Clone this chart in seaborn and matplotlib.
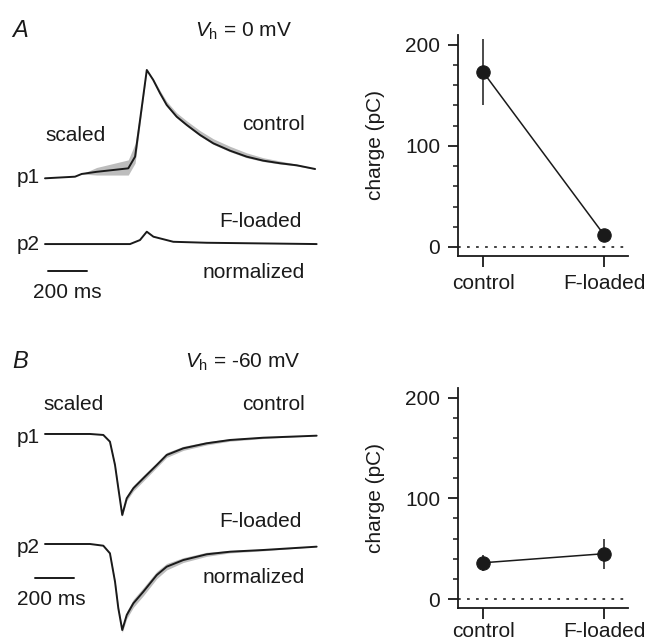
import numpy as np
import pandas as pd
import seaborn as sns
import matplotlib.pyplot as plt

sns.set_style("white")
plt.rcParams['font.family'] = ['Liberation Sans', 'DejaVu Sans']
plt.rcParams['mathtext.fontset'] = 'custom'
plt.rcParams['mathtext.rm'] = 'Liberation Sans'
plt.rcParams['mathtext.it'] = 'Liberation Sans:italic'

# ---- traces, panel A (Vh = 0 mV), normalized amplitude, time in ms ----
a_p1_t = [0, 154, 188, 265, 427, 462, 522, 555, 590, 624, 675, 727, 795, 863, 949,
          1034, 1119, 1205, 1291, 1385]
a_p1 = [0, 0.015, 0.04, 0.06, 0.092, 0.200, 1.0, 0.908, 0.785, 0.677, 0.569, 0.492,
        0.400, 0.323, 0.255, 0.200, 0.163, 0.139, 0.120, 0.086]
a_p1_hi = [0, 0.015, 0.04, 0.10, 0.17, 0.32, 1.0, 0.92, 0.81, 0.71, 0.605, 0.53,
           0.44, 0.365, 0.295, 0.235, 0.19, 0.16, 0.13, 0.09]
a_p1_lo = [0, 0.015, 0.04, 0.03, 0.03, 0.14, 0.99, 0.90, 0.775, 0.665, 0.56, 0.482,
           0.39, 0.313, 0.245, 0.19, 0.155, 0.132, 0.114, 0.083]
a_p2_t = [0, 436, 487, 522, 556, 658, 829, 1393]
a_p2 = [0, 0, 0.037, 0.114, 0.068, 0.021, 0.012, 0]

# ---- traces, panel B (Vh = -60 mV) ----
b_t = [0, 231, 299, 333, 359, 376, 396, 419, 453, 504, 573, 624, 709, 829, 949, 1119, 1393]
b_p1 = [0, 0, -0.012, -0.095, -0.383, -0.670, -1.0, -0.794, -0.670, -0.547, -0.383,
        -0.259, -0.177, -0.115, -0.074, -0.046, -0.021]
b_p1_sd = [0, 0, 0, 0.01, 0.02, 0.02, 0.02, 0.03, 0.035, 0.035, 0.03, 0.03, 0.025,
           0.02, 0.015, 0.01, 0]
b_p2 = [0, 0, -0.021, -0.115, -0.465, -0.794, -1.062, -0.877, -0.732, -0.589, -0.383,
        -0.280, -0.198, -0.127, -0.095, -0.074, -0.033]
b_p2_sd = [0, 0, 0, 0.01, 0.02, 0.03, 0.03, 0.045, 0.05, 0.05, 0.045, 0.04, 0.03,
           0.025, 0.015, 0.01, 0]

# ---- charge summary ----
groups = ['control', 'F-loaded']
charge_a = [173, 12]
charge_a_err = [33, 0]
charge_b = [36, 45]
charge_b_err = [8, 15]

W, H = 649, 643
fig = plt.figure(figsize=(W / 100, H / 100), dpi=100)
ink = '#1a1a1a'
band = '#bdbdbd'
fs = 15
tlw = 1.4


def rect(x0, y0, x1, y1):
    return [x0 / W, 1 - y1 / H, (x1 - x0) / W, (y1 - y0) / H]


def ftext(x, y, s, **kw):
    fig.text(x / W, 1 - y / H, s, fontsize=kw.pop('fontsize', fs), color=ink,
             va='baseline', **kw)


# left trace panels
axA = fig.add_axes(rect(0, 0, 330, 320))
axA.set_xlim(-230.8, 1461.5)
axA.set_ylim(-1.308, 1.646)
axA.fill_between(a_p1_t, a_p1_lo, a_p1_hi, color=band, lw=0)
sns.lineplot(x=a_p1_t, y=a_p1, ax=axA, color=ink, lw=tlw)
off_a = -0.607
sns.lineplot(x=a_p2_t, y=np.array(a_p2) + off_a, ax=axA, color=ink, lw=tlw)
axA.plot([15, 215], [-0.856, -0.856], color=ink, lw=tlw)
axA.axis('off')

axB = fig.add_axes(rect(0, 320, 330, 643))
axB.set_xlim(-230.8, 1461.5)
axB.set_ylim(-2.580, 1.407)
off_b = -1.358
bp1 = np.array(b_p1)
bp2 = np.array(b_p2) + off_b
axB.fill_between(b_t, bp1 - np.array(b_p1_sd), bp1 + np.array(b_p1_sd), color=band, lw=0)
axB.fill_between(b_t, bp2 - np.array(b_p2_sd), bp2 + np.array(b_p2_sd), color=band, lw=0)
sns.lineplot(x=b_t, y=bp1, ax=axB, color=ink, lw=tlw)
sns.lineplot(x=b_t, y=bp2, ax=axB, color=ink, lw=tlw)
axB.plot([-51, 149], [-1.778, -1.778], color=ink, lw=tlw)
axB.axis('off')

# panel texts
ftext(12, 37, 'A', fontsize=17, style='italic')
ftext(195, 37, r'$V_{\mathrm{h}}$ = 0 mV')
ftext(45, 141, 'scaled')
ftext(305, 130, 'control', ha='right')
ftext(17, 183, 'p1')
ftext(302, 227, 'F-loaded', ha='right')
ftext(17, 250, 'p2')
ftext(305, 278, 'normalized', ha='right')
ftext(33, 298, '200 ms')

ftext(12, 368, 'B', fontsize=17, style='italic')
ftext(185, 368, r'$V_{\mathrm{h}}$ = -60 mV')
ftext(43, 410, 'scaled')
ftext(305, 410, 'control', ha='right')
ftext(17, 443, 'p1')
ftext(302, 527, 'F-loaded', ha='right')
ftext(17, 553, 'p2')
ftext(305, 583, 'normalized', ha='right')
ftext(17, 605, '200 ms')


def charge_panel(ax, vals, errs, xpad):
    df = pd.DataFrame({'group': groups, 'charge': vals})
    ax.axhline(0, color='#333333', lw=1.3, ls=(0, (1.5, 3.5)))
    sns.pointplot(data=df, x='group', y='charge', ax=ax, color=ink, errorbar=None,
                  markers='o', markersize=9.6, linewidth=1.1)
    ax.errorbar(range(len(groups)), vals, yerr=errs, fmt='none', ecolor=ink, elinewidth=1.1)
    ax.set_xlim(-0.207, 1.198)
    ax.set_ylim(-8.9, 209.5)
    ax.set_yticks([0, 100, 200])
    ax.set_yticks(np.arange(0, 201, 20), minor=True)
    sns.despine(ax=ax)
    for s in ['left', 'bottom']:
        ax.spines[s].set_linewidth(1.3)
        ax.spines[s].set_color(ink)
    ax.tick_params(axis='y', which='major', length=7.2, width=1.3, pad=5.5,
                   labelsize=fs, colors=ink, left=True)
    ax.tick_params(axis='y', which='minor', length=3.6, width=1.1, colors=ink, left=True)
    ax.tick_params(axis='x', length=8, width=1.3, pad=xpad, labelsize=fs, colors=ink, bottom=True)
    ax.set_xlabel('')
    ax.set_ylabel('charge (pC)', fontsize=fs, color=ink)
    ax.yaxis.set_label_coords(-0.43, 0.5)


axC = fig.add_axes(rect(458, 35, 628, 256))
charge_panel(axC, charge_a, charge_a_err, 5)
axD = fig.add_axes(rect(458, 388, 628, 608))
charge_panel(axD, charge_b, charge_b_err, 2)

fig.savefig('out.png', dpi=100)
